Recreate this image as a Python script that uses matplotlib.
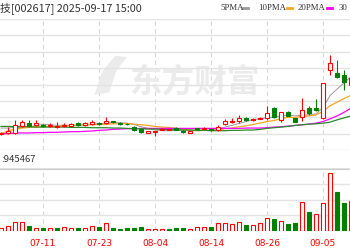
import matplotlib
matplotlib.use('Agg')
import matplotlib.pyplot as plt
from matplotlib.lines import Line2D
from matplotlib.patches import Rectangle, Polygon

plt.rcParams['font.family'] = ['Noto Sans CJK SC', 'DejaVu Sans']

dates = ['07-03', '07-04', '07-07', '07-08', '07-09', '07-10', '07-11', '07-14', '07-15', '07-16',
         '07-17', '07-18', '07-21', '07-22', '07-23', '07-24', '07-25', '07-28', '07-29', '07-30',
         '07-31', '08-01', '08-04', '08-05', '08-06', '08-07', '08-08', '08-11', '08-12', '08-13',
         '08-14', '08-15', '08-18', '08-19', '08-20', '08-21', '08-22', '08-25', '08-26', '08-27',
         '08-28', '08-29', '09-01', '09-02', '09-03', '09-04', '09-05', '09-08', '09-09', '09-10',
         '09-11']
tick_dates = ['07-11', '07-23', '08-04', '08-14', '08-26', '09-05']

opens = [6.49, 6.52, 6.52, 6.73, 6.82, 6.76, 6.76, 6.73, 6.69, 6.73,
         6.73, 6.81, 6.76, 6.78, 6.82, 6.81, 6.89, 6.82, 6.79, 6.70,
         6.63, 6.53, 6.54, 6.61, 6.61, 6.66, 6.58, 6.53, 6.66, 6.64,
         6.64, 6.60, 6.79, 6.85, 6.89, 6.98, 6.93, 6.96, 6.98, 7.28,
         6.93, 7.16, 6.98, 7.02, 7.28, 7.28, 6.98, 8.44, 8.35, 8.29,
         7.98]
highs = [6.55, 6.70, 6.92, 6.92, 6.92, 6.92, 6.79, 6.82, 6.85, 6.82,
         6.82, 6.85, 6.85, 6.92, 6.85, 7.01, 6.90, 6.85, 6.82, 6.73,
         6.64, 6.58, 6.59, 6.66, 6.64, 6.69, 6.60, 6.58, 6.67, 6.69,
         6.66, 6.75, 6.95, 6.98, 7.07, 7.01, 6.99, 7.01, 7.34, 7.31,
         7.16, 7.19, 6.99, 7.59, 7.34, 7.56, 8.05, 8.90, 8.75, 8.44,
         8.26]
lows = [6.46, 6.49, 6.49, 6.70, 6.70, 6.73, 6.70, 6.70, 6.67, 6.70,
        6.70, 6.73, 6.73, 6.76, 6.76, 6.79, 6.82, 6.76, 6.76, 6.58,
        6.52, 6.52, 6.43, 6.60, 6.60, 6.60, 6.53, 6.52, 6.61, 6.63,
        6.58, 6.58, 6.76, 6.82, 6.82, 6.89, 6.90, 6.95, 6.92, 6.98,
        6.87, 7.04, 6.84, 6.89, 7.07, 7.19, 6.96, 8.29, 8.20, 7.83,
        7.92]
closes = [6.52, 6.58, 6.76, 6.85, 6.73, 6.82, 6.73, 6.76, 6.72, 6.76,
          6.78, 6.75, 6.82, 6.85, 6.78, 6.89, 6.84, 6.79, 6.78, 6.61,
          6.55, 6.57, 6.58, 6.64, 6.63, 6.61, 6.55, 6.57, 6.63, 6.67,
          6.60, 6.70, 6.89, 6.90, 6.98, 6.92, 6.95, 6.99, 7.13, 7.01,
          7.15, 7.05, 6.87, 7.22, 7.13, 7.22, 8.05, 8.66, 8.23, 8.08,
          8.20]
volumes = [95000, 159000, 286000, 286000, 159000, 95000, 95000, 95000, 95000, 127000,
           95000, 95000, 95000, 159000, 127000, 254000, 95000, 79000, 95000, 95000,
           127000, 63000, 63000, 63000, 63000, 95000, 95000, 63000, 127000, 127000,
           127000, 254000, 254000, 222000, 286000, 190000, 190000, 254000, 413000, 381000,
           317000, 222000, 254000, 921000, 603000, 540000, 889000, 1841000, 1238000, 889000,
           945467]

ma5 = [6.67, 6.67, 6.69, 6.69, 6.69, 6.75, 6.78, 6.78, 6.75, 6.76,
       6.75, 6.75, 6.77, 6.79, 6.80, 6.82, 6.84, 6.83, 6.82, 6.78,
       6.71, 6.66, 6.61, 6.59, 6.59, 6.60, 6.60, 6.60, 6.60, 6.60,
       6.60, 6.63, 6.70, 6.75, 6.81, 6.87, 6.93, 6.95, 6.99, 7.00,
       7.04, 7.07, 7.04, 7.06, 7.08, 7.10, 7.30, 7.66, 7.86, 8.05,
       8.24]
ma10 = [6.49, 6.58, 6.64, 6.67, 6.69, 6.70, 6.71, 6.72, 6.72, 6.73,
        6.75, 6.77, 6.77, 6.77, 6.78, 6.78, 6.80, 6.80, 6.81, 6.79,
        6.77, 6.75, 6.72, 6.70, 6.69, 6.66, 6.63, 6.61, 6.59, 6.60,
        6.60, 6.62, 6.65, 6.67, 6.71, 6.74, 6.78, 6.82, 6.87, 6.90,
        6.96, 7.00, 6.99, 7.03, 7.04, 7.07, 7.18, 7.35, 7.46, 7.57,
        7.67]
ma20 = [6.49, 6.50, 6.52, 6.52, 6.52, 6.53, 6.53, 6.54, 6.54, 6.55,
        6.56, 6.56, 6.57, 6.58, 6.60, 6.61, 6.63, 6.64, 6.65, 6.65,
        6.66, 6.66, 6.66, 6.66, 6.66, 6.66, 6.66, 6.66, 6.66, 6.66,
        6.66, 6.66, 6.66, 6.66, 6.66, 6.67, 6.67, 6.67, 6.68, 6.70,
        6.71, 6.73, 6.75, 6.77, 6.79, 6.82, 6.87, 6.95, 7.04, 7.15,
        7.28]
ma30 = [6.72, 6.72, 6.71, 6.71, 6.71, 6.70, 6.70, 6.70, 6.70, 6.70,
        6.69, 6.69, 6.69, 6.68, 6.68, 6.68, 6.67, 6.67, 6.66, 6.65,
        6.65, 6.64, 6.64, 6.63, 6.62, 6.62, 6.61, 6.61, 6.60, 6.60,
        6.59, 6.59, 6.59, 6.60, 6.60, 6.61, 6.61, 6.63, 6.66, 6.68,
        6.70, 6.72, 6.75, 6.77, 6.79, 6.80, 6.82, 6.85, 6.92, 6.98,
        7.04]

RED = '#ff0000'
GREEN = '#008000'
GRID = '#e3e3e3'
MARK = '#ebebeb'

fig = plt.figure(figsize=(3.5, 2.5), dpi=100)
ax = fig.add_axes([0, 100 / 250, 1, 131 / 250])
axv = fig.add_axes([0, 19 / 250, 1, 63 / 250])

x = list(range(len(dates)))
for a in (ax, axv):
    a.set_xlim(-1 / 7, 349 / 7)
    for s in a.spines.values():
        s.set_visible(False)
    a.tick_params(left=False, labelleft=False, bottom=False)
    a.grid(axis='y', color=GRID, lw=1)
    a.set_axisbelow(True)
    for d in tick_dates:
        a.axvline(dates.index(d), color='#d8d8d8', lw=0.8, ls=(0, (4, 3)), zorder=0)

# price panel
ax.set_ylim(6.0, 10.0)
ax.set_yticks([6.0 + 0.5 * k for k in range(9)])
ax.set_xticks([])
# watermark: logo swoosh + name
ax.add_patch(Polygon([(0.270, 0.42), (0.292, 0.60), (0.330, 0.72), (0.362, 0.71),
                      (0.332, 0.60), (0.312, 0.44)], closed=True, transform=ax.transAxes,
                     facecolor=MARK, edgecolor='none', zorder=0))
ax.text(0.555, 0.52, '东方财富', transform=ax.transAxes, ha='center', va='center',
        fontsize=23.5, fontweight='bold', color=MARK, zorder=0)

w = 0.68
for i in x:
    o, h, l, c = opens[i], highs[i], lows[i], closes[i]
    up = c >= o
    col = RED if up else GREEN
    ax.vlines(i, l, h, color=col, lw=0.8, zorder=3)
    bot, top = min(o, c), max(o, c)
    ax.add_patch(Rectangle((i - w / 2, bot), w, max(top - bot, 0.008),
                           facecolor='white' if up else col, edgecolor=col, lw=0.8, zorder=4))

ax.plot(x, ma5, color='#9a9a9a', lw=0.7, zorder=2)
ax.plot(x, ma10, color='#f5a623', lw=0.9, zorder=2)
ax.plot(x, ma20, color='#ff00ff', lw=0.9, zorder=2)
ax.plot(x, ma30, color='#2a8a2a', lw=0.9, zorder=2)

# volume panel
axv.set_ylim(0, 2000000)
axv.set_yticks([0, 500000, 1000000, 1500000, 2000000])
for i in x:
    up = i == 0 or closes[i] >= closes[i - 1]
    col = RED if up else GREEN
    axv.bar(i, volumes[i], width=0.68, facecolor='white' if up else col,
            edgecolor=col, lw=0.8, zorder=3)
axv.set_xticks([dates.index(d) for d in tick_dates])
axv.set_xticklabels(tick_dates, color=RED, fontsize=6.5, family='DejaVu Sans')
axv.tick_params(axis='x', pad=2)

# header texts
fig.text(0.0, 242 / 250, '技[002617] 2025-09-17 15:00', fontsize=7.8, color='#333333',
         va='center', ha='left')
fig.text(0.003, 90 / 250, ':945467', fontsize=6.8, color='#333333', va='center', ha='left')
fig.add_artist(Line2D([0, 1], [81.5 / 250, 81.5 / 250], color='#cccccc', lw=0.8))

legend = [('5PMA', '#9a9a9a', 220), ('10PMA', '#f5a623', 258), ('20PMA', '#ff00ff', 298),
          ('30', '#2a8a2a', 339)]
for name, col, px in legend:
    fig.text(px / 350, 242 / 250, name, fontsize=6.3, color='#333333', va='center', ha='left',
             family='Liberation Serif')
    end = px + 5.6 * len(name) + 1
    if end < 345:
        fig.add_artist(Line2D([end / 350, (end + 5) / 350], [242 / 250, 242 / 250],
                              color=col, lw=2))

fig.savefig('out.png', dpi=100)
